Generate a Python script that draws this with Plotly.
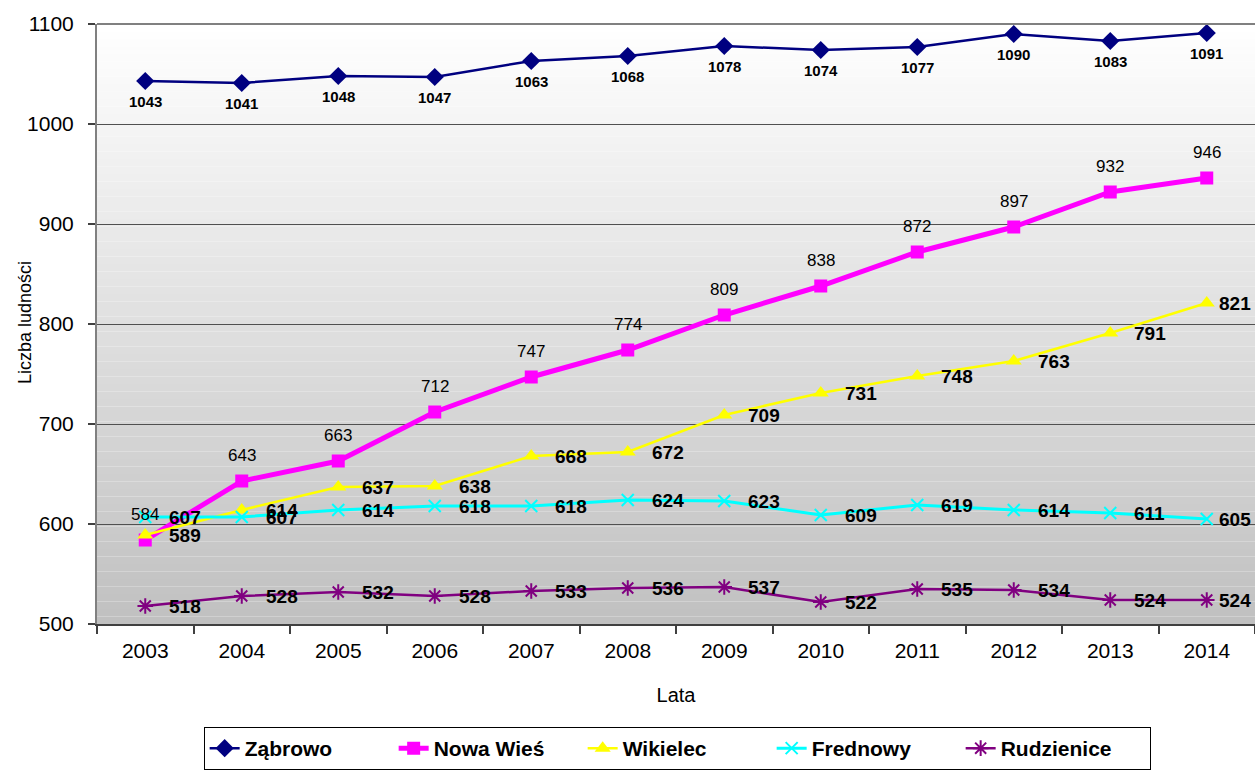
import plotly.graph_objects as go

years = ["2003", "2004", "2005", "2006", "2007", "2008", "2009", "2010", "2011", "2012", "2013", "2014"]
zabrowo = [1043, 1041, 1048, 1047, 1063, 1068, 1078, 1074, 1077, 1090, 1083, 1091]
nowa_wies = [584, 643, 663, 712, 747, 774, 809, 838, 872, 897, 932, 946]
wikielec = [589, 614, 637, 638, 668, 672, 709, 731, 748, 763, 791, 821]
frednowy = [607, 607, 614, 618, 618, 624, 623, 609, 619, 614, 611, 605]
rudzienice = [518, 528, 532, 528, 533, 536, 537, 522, 535, 534, 524, 524]

y_ticks = [500, 600, 700, 800, 900, 1000, 1100]

FONT = "Arial, Liberation Sans, sans-serif"

series = [
    dict(name="Ząbrowo", y=zabrowo, color="#000080", width=2.5,
         marker=dict(symbol="diamond", size=14, color="#000080")),
    dict(name="Nowa Wieś", y=nowa_wies, color="#FF00FF", width=5,
         marker=dict(symbol="square", size=13, color="#FF00FF")),
    dict(name="Wikielec", y=wikielec, color="#FFFF00", width=2.5,
         marker=dict(symbol="triangle-up", size=14, color="#FFFF00")),
    dict(name="Frednowy", y=frednowy, color="#00FFFF", width=3,
         marker=dict(symbol="x-thin-open", size=12, color="#00FFFF",
                     line=dict(color="#00FFFF", width=2))),
    dict(name="Rudzienice", y=rudzienice, color="#800080", width=2.5,
         marker=dict(symbol="asterisk-open", size=13, color="#800080",
                     line=dict(color="#800080", width=2))),
]

fig = go.Figure()
for s in series:
    fig.add_trace(go.Scatter(
        x=years, y=s["y"], name=s["name"], mode="lines+markers",
        line=dict(color=s["color"], width=s["width"]),
        marker=s["marker"], cliponaxis=False,
    ))

# gradient background
N = 80
shapes = []
for i in range(N):
    t = (i + 0.5) / N  # 0 bottom -> 1 top
    g = int(round(192 + (255 - 192) * t))
    shapes.append(dict(type="rect", xref="x domain", yref="y domain",
                       x0=0, x1=1, y0=i / N, y1=(i + 1) / N,
                       fillcolor=f"rgb({g},{g},{g})", line=dict(width=0),
                       layer="below"))
shapes.append(dict(type="line", xref="x domain", yref="y domain",
                   x0=0, x1=1, y0=1, y1=1, line=dict(color="#808080", width=2)))

annotations = []
n = len(years)
for i, v in enumerate(zabrowo):
    annotations.append(dict(x=i, y=v, xref="x", yref="y", text=str(v), showarrow=False, yshift=-20,
                            font=dict(family=FONT, size=15, color="black", weight="bold")))
for i, v in enumerate(nowa_wies):
    annotations.append(dict(x=i, y=v, xref="x", yref="y", text=str(v), showarrow=False, yshift=26,
                            font=dict(family=FONT, size=17, color="black")))
for arr in (wikielec, frednowy, rudzienice):
    for i, v in enumerate(arr):
        annotations.append(dict(x=i, y=v, xref="x", yref="y", text=str(v), showarrow=False,
                                xanchor="left", xshift=(10 if i == n - 1 else 22),
                                font=dict(family=FONT, size=19, color="black", weight="bold")))
# y axis title
annotations.append(dict(x=-0.062, y=0.502, xref="paper", yref="paper", text="Liczba ludności",
                        textangle=-90, showarrow=False, xanchor="center", yanchor="middle",
                        font=dict(family=FONT, size=18, color="black")))

fig.update_layout(
    width=1255, height=770,
    margin=dict(l=97, r=0, t=24, b=145),
    paper_bgcolor="white", plot_bgcolor="white",
    font=dict(family=FONT, size=21, color="black"),
    shapes=shapes, annotations=annotations,
    showlegend=True,
    legend=dict(orientation="h", x=0.501, xanchor="center", y=-0.171, yanchor="top",
                bordercolor="black", borderwidth=1, bgcolor="white",
                font=dict(family=FONT, size=21, color="black", weight="bold"),
                entrywidth=144, entrywidthmode="pixels", tracegroupgap=0),
    xaxis=dict(type="category", range=[-0.5, 11.5], tickson="boundaries",
               ticks="outside", ticklen=8, tickcolor="#404040", tickwidth=1.5,
               showline=True, linecolor="#404040", linewidth=2,
               showgrid=False, tickfont=dict(size=21), ticklabelstandoff=7,
               title=dict(text="Lata", font=dict(size=20), standoff=27)),
    yaxis=dict(range=[500, 1100], tickvals=y_ticks, ticks="outside", ticklen=7,
               tickcolor="#404040", tickwidth=1.5,
               showline=True, linecolor="#808080", linewidth=2,
               showgrid=True, gridcolor="#505050", gridwidth=1.3,
               zeroline=False, tickfont=dict(size=21), ticklabelstandoff=10),
)

fig.write_html("out.html", config={"displayModeBar": False},
               post_script="document.body.style.margin='0px';")
